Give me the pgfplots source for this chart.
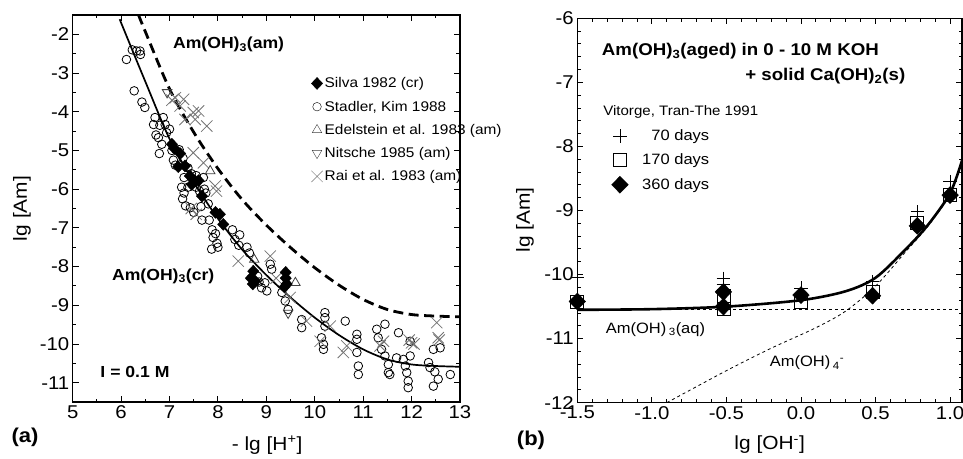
\documentclass[border=0pt]{standalone}
\usepackage{fontspec}
\setmainfont{Liberation Sans}[FakeStretch=1.1]
\usepackage{pgfplots}
\pgfplotsset{compat=1.18}
\pgfplotsset{
  panel/.style={
    scale only axis,
    axis line style={line width=1.1pt},
    every tick/.style={black, line width=0.9pt},
    major tick length=6pt,
    minor tick length=3.5pt,
    tick align=inside,
    /pgf/number format/assume math mode=true,
    tick label style={font=\fontsize{18.5}{20}\selectfont},
    label style={font=\fontsize{19}{21}\selectfont},
  },
}
\begin{document}
\begin{tikzpicture}
\path[use as bounding box] (0pt,0pt) rectangle (963pt,458pt);
% ---------------- panel (a)
\begin{axis}[panel,
  at={(72.7pt,56pt)}, anchor=south west,
  width=387.3pt, height=387pt,
  xmin=5, xmax=13, ymin=-11.5, ymax=-1.5,
  xtick={5,6,7,8,9,10,11,12,13}, ytick={-11,-10,-9,-8,-7,-6,-5,-4,-3,-2},
  minor x tick num=1, minor y tick num=1,
  xlabel={- lg [H\textsuperscript{+}]},
  ylabel={lg [Am]},
  xlabel style={at={(axis description cs:0.502,0)}, anchor=center, yshift=-43pt},
  ylabel style={at={(axis description cs:0,0.5)}, anchor=center, yshift=50.7pt},
  legend style={at={(0.608,0.849)}, anchor=north west, draw=none, fill=none,
    font=\fontsize{14}{16}\selectfont, row sep=7.6pt},
  legend cell align=left,
]
\addlegendimage{only marks, mark=diamond*, mark size=6pt, mark options={xscale=1.25}}
\addlegendentry{Silva 1982 (cr)}
\addlegendimage{only marks, mark=o, mark size=4.3pt}
\addlegendentry{Stadler, Kim 1988}
\addlegendimage{only marks, mark=triangle, mark size=5.5pt, black!75}
\addlegendentry{Edelstein et al. 1983 (am)}
\addlegendimage{only marks, mark=triangle, mark size=5.5pt, mark options={rotate=180}, black!75}
\addlegendentry{Nitsche 1985 (am)}
\addlegendimage{only marks, mark=x, mark size=8pt, black!55}
\addlegendentry{Rai et al. 1983 (am)}

% dashed curve Am(OH)3(am)
\addplot[black, line width=2.8pt, dash pattern=on 10pt off 5.5pt, smooth, forget plot] coordinates {
(6.36,-1.50) (6.5,-1.93) (7.0,-3.41) (7.5,-4.53) (8.0,-5.47) (8.5,-6.27) (9.0,-6.93)
(9.5,-7.51) (10.0,-8.03) (10.5,-8.48) (11.0,-8.85) (11.5,-9.11) (12.0,-9.24) (12.5,-9.28) (13.0,-9.30)};
% solid curve Am(OH)3(cr)
\addplot[black, line width=1.7pt, smooth, forget plot] coordinates {
(5.97,-1.61) (6.5,-3.22) (7.0,-4.70) (7.5,-5.82) (8.0,-6.76) (8.5,-7.56) (9.0,-8.22)
(9.5,-8.80) (10.0,-9.32) (10.5,-9.77) (11.0,-10.14) (11.5,-10.40) (12.0,-10.53) (12.5,-10.57) (13.0,-10.59)};

% Stadler, Kim 1988
\addplot[only marks, mark=o, mark size=4.3pt, mark options={fill=white, line width=0.8pt}, forget plot] coordinates {
(6.11,-2.65) (6.23,-2.40) (6.32,-2.43) (6.39,-2.43) (6.40,-2.52) (6.27,-3.46) (6.43,-3.75) (6.49,-3.89)
(6.70,-4.15) (6.87,-4.15) (6.67,-4.33) (6.80,-4.35) (6.91,-4.33) (6.77,-4.67) (6.94,-4.54) (6.84,-4.84)
(6.79,-5.08) (6.72,-4.60) (7.00,-4.45) (7.05,-5.00) (7.08,-5.25) (7.12,-5.38) (7.20,-4.98) (7.28,-5.20)
(7.38,-5.45) (7.30,-5.70) (7.25,-5.95) (7.30,-6.10) (7.27,-6.25) (7.33,-6.43) (7.43,-6.48) (7.50,-6.60)
(7.38,-5.95) (7.45,-5.60) (7.55,-5.65) (7.55,-5.95) (7.62,-6.05) (7.70,-5.70) (7.72,-6.00) (7.75,-6.10)
(7.65,-6.45) (7.67,-6.80) (7.80,-6.38) (7.82,-6.80) (7.88,-7.05) (7.90,-7.25) (7.87,-7.55) (7.98,-7.40)
(8.00,-7.50) (7.95,-7.15) (8.30,-7.05) (8.45,-7.18) (8.35,-7.30) (8.43,-7.45) (8.60,-7.50) (8.65,-7.65)
(8.82,-8.25) (8.85,-8.40) (8.90,-8.55) (9.01,-8.63) (8.97,-8.42) (9.08,-7.94) (9.11,-8.07) (9.32,-8.67)
(9.39,-8.89) (9.45,-9.11) (9.73,-9.37) (9.73,-9.58) (10.21,-9.19) (10.21,-9.32) (10.21,-9.54)
(10.14,-9.84) (10.18,-10.01) (10.18,-10.14) (10.63,-9.41) (10.87,-9.75) (10.87,-9.88) (10.87,-10.22)
(10.90,-10.57) (10.90,-10.79) (11.28,-9.62) (11.31,-9.84) (11.45,-9.49) (11.38,-10.14) (11.45,-10.31)
(11.52,-10.53) (11.52,-10.74) (11.55,-10.79) (11.69,-10.36) (11.73,-9.71) (11.83,-10.40) (11.87,-10.57)
(11.90,-10.74) (11.93,-10.96) (11.93,-11.13) (11.97,-9.93) (11.97,-10.31) (12.35,-10.48) (12.38,-10.61)
(12.45,-10.14) (12.45,-11.09) (12.55,-10.91) (12.59,-10.10) (12.80,-10.79) (12.48,-10.72)};
% Rai et al. 1983
\addplot[only marks, mark=x, mark size=8pt, black!55, line width=0.8pt, forget plot] coordinates {
(7.05,-3.70) (7.12,-3.64) (7.29,-3.68) (7.22,-3.85) (7.32,-4.20) (7.49,-4.02) (7.60,-3.98) (7.53,-4.20)
(7.77,-4.37) (7.49,-5.06) (7.70,-5.32) (7.94,-5.92) (7.97,-6.05) (7.45,-6.50) (7.55,-6.65)
(8.42,-7.86) (9.08,-7.73) (9.20,-8.30) (9.49,-8.80) (9.83,-9.41) (10.11,-9.93) (10.32,-9.54)
(10.59,-10.22) (10.66,-10.05) (11.42,-9.93) (11.35,-10.05) (12.00,-9.97) (12.05,-10.00) (11.95,-9.90)
(12.52,-9.45) (12.55,-9.84) (12.57,-9.90)};
% Edelstein et al. 1983
\addplot[only marks, mark=triangle, mark size=5.5pt, black!75, line width=0.8pt, forget plot] coordinates {
(7.84,-5.53) (8.75,-7.82) (9.60,-8.42)};
% Nitsche 1985
\addplot[only marks, mark=triangle, mark size=5.5pt, mark options={rotate=180}, black!75, line width=0.8pt, forget plot] coordinates {
(6.95,-3.50) (9.45,-9.20)};
% Silva 1982
\addplot[only marks, mark=diamond*, mark size=6pt, mark options={xscale=1.25}, forget plot] coordinates {
(7.05,-4.84) (7.10,-4.95) (7.22,-5.08) (7.18,-5.42) (7.32,-5.40) (7.42,-5.66) (7.53,-5.79) (7.46,-5.88)
(7.60,-5.78) (7.67,-6.18) (7.95,-6.60) (8.04,-6.65) (8.11,-6.91) (8.73,-8.12) (8.68,-8.30) (8.77,-8.38)
(8.72,-8.45) (9.40,-8.15) (9.40,-8.30) (9.42,-8.45) (9.38,-8.52)};

\node[anchor=west, inner sep=0pt, font=\bfseries\fontsize{16}{18}\selectfont] at (axis cs:7.07,-2.26) {Am(OH)\textsubscript{3}(am)};
\node[anchor=west, inner sep=0pt, font=\bfseries\fontsize{16}{18}\selectfont] at (axis cs:5.81,-8.25) {Am(OH)\textsubscript{3}(cr)};
\node[anchor=west, inner sep=0pt, font=\bfseries\fontsize{16}{18}\selectfont] at (axis cs:5.57,-10.73) {I = 0.1 M};
\end{axis}
\node[font=\bfseries\fontsize{20}{22}\selectfont] at (25pt,21pt) {(a)};

% ---------------- panel (b)
\begin{axis}[panel,
  at={(577.3pt,55.3pt)}, anchor=south west,
  width=384.7pt, height=384.4pt,
  xmin=-1.5, xmax=1.08, ymin=-12, ymax=-6,
  xtick={-1.5,-1,-0.5,0,0.5,1}, ytick={-12,-11,-10,-9,-8,-7,-6},
  minor x tick num=4, minor y tick num=4,
  xticklabel style={/pgf/number format/.cd, fixed, fixed zerofill, precision=1},
  xlabel={lg [OH\textsuperscript{-}]},
  ylabel={lg [Am]},
  xlabel style={at={(axis description cs:0.5,0)}, anchor=center, yshift=-42.3pt},
  ylabel style={at={(axis description cs:0,0.475)}, anchor=center, yshift=52.3pt},
  legend style={at={(0.081,0.7206)}, anchor=north west, draw=none, fill=none,
    font=\fontsize{15}{17}\selectfont, row sep=7.8pt,
    /tikz/every odd column/.append style={column sep=12pt}},
  legend cell align=left,
]
\addlegendimage{only marks, mark=+, mark size=6.7pt, line width=0.8pt}
\addlegendentry{\phantom{1}70 days}
\addlegendimage{only marks, mark=square, mark size=6.5pt, line width=0.8pt}
\addlegendentry{170 days}
\addlegendimage{only marks, mark=diamond*, mark size=8.5pt, mark options={xscale=1.3}}
\addlegendentry{360 days}

\addplot[black, line width=0.8pt, dash pattern=on 3pt off 3pt, forget plot] coordinates {(-1.5,-10.55) (1.08,-10.55)};
\addplot[black, line width=0.8pt, dash pattern=on 3pt off 3pt, smooth, forget plot] coordinates {
(-0.9,-12.0) (-0.5,-11.5) (-0.2,-11.15) (0.1,-10.83) (0.3,-10.57) (0.5,-10.18) (0.7,-9.65) (0.85,-9.25) (1.0,-8.75) (1.08,-8.22)};
\addplot[black, line width=2.6pt, smooth, forget plot] coordinates {
(-1.5,-10.55) (-1.0,-10.54) (-0.5,-10.50) (0.0,-10.40) (0.3,-10.26) (0.5,-10.05) (0.7,-9.61) (0.85,-9.23) (1.0,-8.73) (1.08,-8.22)};

% 70 days
\addplot[only marks, mark=+, mark size=6.7pt, line width=0.8pt, forget plot] coordinates {
(-1.5,-10.05) (-0.52,-10.06) (-0.52,-10.16) (0.0,-10.21) (0.48,-10.11) (0.78,-9.02) (1.0,-8.55)};
% 170 days
\addplot[only marks, mark=square, mark size=6.5pt, line width=0.8pt, forget plot] coordinates {
(-1.5,-10.42) (-0.52,-10.34) (-0.52,-10.53) (0.0,-10.42) (0.48,-10.27) (0.78,-9.20) (1.0,-8.76)};
% 360 days
\addplot[only marks, mark=diamond*, mark size=8.5pt, mark options={xscale=1.3}, forget plot] coordinates {
(-1.5,-10.42) (-0.52,-10.27) (-0.52,-10.50) (0.0,-10.32) (0.48,-10.33) (0.78,-9.24) (1.0,-8.76)};

\node[anchor=west, inner sep=0pt, font=\bfseries\fontsize{17}{19}\selectfont] at (axis cs:-1.336,-6.52) {Am(OH)\textsubscript{3}(aged) in 0 - 10 M KOH};
\node[anchor=west, inner sep=0pt, font=\bfseries\fontsize{17}{19}\selectfont] at (axis cs:-0.375,-6.91) {+ solid Ca(OH)\textsubscript{2}(s)};
\node[anchor=west, inner sep=0pt, font=\fontsize{13.7}{16}\selectfont] at (axis cs:-1.327,-7.46) {Vitorge, Tran-The 1991};
\node[anchor=west, inner sep=0pt, font=\fontsize{15}{17}\selectfont] at (axis cs:-1.31,-10.86) {Am(OH)\,\textsubscript{3}(aq)};
\node[anchor=west, inner sep=0pt, font=\fontsize{15}{17}\selectfont] at (axis cs:-0.21,-11.38) {Am(OH)\,\textsubscript{4}\textsuperscript{-}};
\end{axis}
\node[font=\bfseries\fontsize{20}{22}\selectfont] at (531pt,18pt) {(b)};
\end{tikzpicture}
\end{document}
